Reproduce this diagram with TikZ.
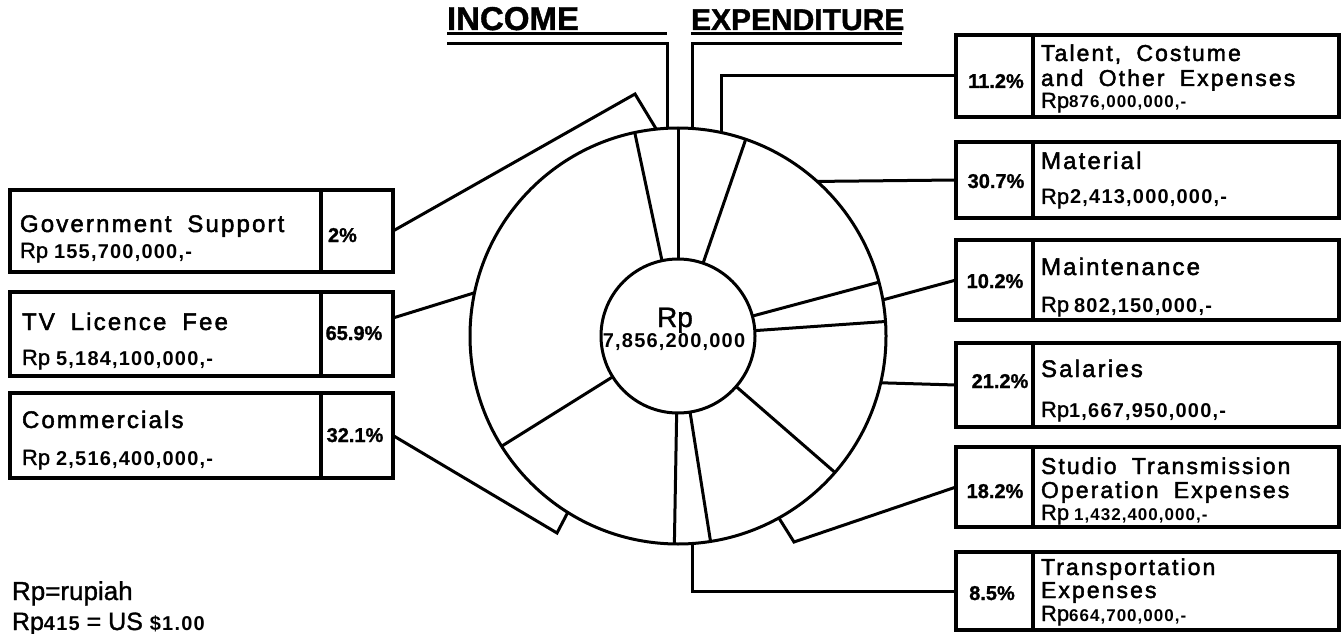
\documentclass[tikz,border=0pt]{standalone}
\usepackage{fontspec}
\setmainfont{Liberation Sans}[FakeBold=1.2]
\newfontfamily\labfont{Liberation Sans}[LetterSpace=9,WordSpace=1.8,FakeBold=2]
\newfontfamily\numfont{Liberation Sans}[LetterSpace=6]
\usetikzlibrary{calc}
% item name, amount in rupiah, percentage
\newcommand\lab[1]{{\labfont\fontsize{24}{24}\selectfont #1}}
\newcommand\labs[1]{{\labfont\fontsize{23}{23}\selectfont #1}}
\newcommand\rpamt[3][20]{{\fontsize{22}{22}\selectfont Rp}\hspace{#2}{\numfont\bfseries\fontsize{#1}{#1}\selectfont #3}}
\newcommand\pct[1]{{\bfseries\fontsize{20}{20}\selectfont #1}}
\begin{document}
\begin{tikzpicture}[x=1pt,y=1pt,
  box/.style={draw, line width=3.4pt, inner sep=0pt, outer sep=0pt, anchor=south west},
  txt/.style={inner sep=0pt, outer sep=0pt, anchor=base west},
  pc/.style={inner sep=0pt, outer sep=0pt, anchor=base},
  link/.style={line width=3pt, line join=miter},
  ringst/.style={draw, circle, line width=3pt, inner sep=0pt, outer sep=0pt}]
\useasboundingbox (0,0) rectangle (1343,633);

% ---- the pie ring ----
\coordinate (o) at (678,297);
\node[ringst, minimum size=416pt] (ring) at (o) {};
\node[ringst, minimum size=154pt] (hub) at (o) {};
\foreach \a in {102,90,71,15,4,319.5,279,269,212}
  \draw[link] (hub.\a) -- (ring.\a);
\node[pc] (hubrp) at (675,306) {\fontsize{28}{28}\selectfont Rp};
\node[pc] (hubamt) at (674,286) {\numfont\bfseries\fontsize{20}{20}\selectfont 7,856,200,000};

% ---- headings ----
\node[txt] (inc) at (447,603) {\bfseries\fontsize{33}{33}\selectfont INCOME};
\node[txt] (exp) at (691,603) {\bfseries\fontsize{30}{30}\selectfont EXPENDITURE};
\coordinate (incU1) at (447,599); \coordinate (incU2) at (667,599);
\coordinate (incA) at (447,589);
\coordinate (expU1) at (691,599); \coordinate (expU2) at (902,599);
\coordinate (expA) at (902,589);
\draw[link] (incU1) -- (incU2);
\draw[link] (incA) -| (ring.93.6);
\draw[link] (expU1) -- (expU2);
\draw[link] (expA) -| (ring.86.4);

% ---- income boxes ----
\node[box, minimum width=311pt, minimum height=82pt] (gov) at (10,361) {};
\node[box, minimum width=72pt, minimum height=82pt] (govp) at (321,361) {};
\node[box, minimum width=311pt, minimum height=84pt] (tv) at (10,257) {};
\node[box, minimum width=72pt, minimum height=84pt] (tvp) at (321,257) {};
\node[box, minimum width=311pt, minimum height=85pt] (com) at (10,155) {};
\node[box, minimum width=72pt, minimum height=85pt] (comp) at (321,155) {};

\node[txt] (govn) at (20,401) {\lab{Government Support}};
\node[txt] (gova) at (20,375) {\rpamt{6pt}{155,700,000,-}};
\node[txt] (govq) at (328,391) {\pct{2\%}};
\node[txt] (tvn) at (22,303) {\lab{TV Licence Fee}};
\node[txt] (tva) at (22,268) {\rpamt{6pt}{5,184,100,000,-}};
\node[pc] (tvq) at (354,293) {\pct{65.9\%}};
\node[txt] (comn) at (22,205) {\lab{Commercials}};
\node[txt] (coma) at (22,168) {\rpamt{6pt}{2,516,400,000,-}};
\node[pc] (comq) at (355,191) {\pct{32.1\%}};

% ---- expenditure boxes ----
\node[box, minimum width=77pt, minimum height=82pt] (talp) at (956,516) {};
\node[box, minimum width=306pt, minimum height=82pt] (tal) at (1033,516) {};
\node[box, minimum width=77pt, minimum height=76pt] (matp) at (956,415) {};
\node[box, minimum width=306pt, minimum height=76pt] (mat) at (1033,415) {};
\node[box, minimum width=77pt, minimum height=80pt] (maip) at (956,313) {};
\node[box, minimum width=306pt, minimum height=80pt] (mai) at (1033,313) {};
\node[box, minimum width=77pt, minimum height=84pt] (salp) at (956,206) {};
\node[box, minimum width=306pt, minimum height=84pt] (sal) at (1033,206) {};
\node[box, minimum width=77pt, minimum height=80pt] (stup) at (956,106) {};
\node[box, minimum width=306pt, minimum height=80pt] (stu) at (1033,106) {};
\node[box, minimum width=77pt, minimum height=78pt] (trap) at (956,3) {};
\node[box, minimum width=306pt, minimum height=78pt] (tra) at (1033,3) {};

\node[pc] (talq) at (996,545) {\pct{11.2\%}};
\node[txt] (taln1) at (1041,572) {\labs{Talent, Costume}};
\node[txt] (taln2) at (1041,547) {\labs{and Other Expenses}};
\node[txt] (tala) at (1041,525) {\rpamt[17]{0pt}{876,000,000,-}};

\node[pc] (matq) at (996,445) {\pct{30.7\%}};
\node[txt] (matn) at (1041,464) {\lab{Material}};
\node[txt] (mata) at (1041,429) {\rpamt{1pt}{2,413,000,000,-}};

\node[pc] (maiq) at (995,345) {\pct{10.2\%}};
\node[txt] (main) at (1041,358) {\lab{Maintenance}};
\node[txt] (maia) at (1041,321) {\rpamt{5pt}{802,150,000,-}};

\node[pc] (salq) at (1000,245) {\pct{21.2\%}};
\node[txt] (saln) at (1041,256) {\lab{Salaries}};
\node[txt] (sala) at (1041,216) {\rpamt{0pt}{1,667,950,000,-}};

\node[pc] (stuq) at (995,135) {\pct{18.2\%}};
\node[txt] (stun1) at (1041,159) {\labs{Studio Transmission}};
\node[txt] (stun2) at (1041,135) {\labs{Operation Expenses}};
\node[txt] (stua) at (1041,113) {\rpamt[17]{5pt}{1,432,400,000,-}};

\node[pc] (traq) at (992,33) {\pct{8.5\%}};
\node[txt] (tran1) at (1041,58) {\labs{Transportation}};
\node[txt] (tran2) at (1041,35) {\labs{Expenses}};
\node[txt] (traa) at (1041,12) {\rpamt[17]{0pt}{664,700,000,-}};

% ---- connectors from boxes to the ring ----
\coordinate (govK) at (635,539);
\coordinate (comK) at (557,100);
\coordinate (stuK) at (794,91);
\draw[link] (govp.east) -- (govK) -- (ring.96);
\draw[link] ([yshift=16pt]tvp.east) -- (ring.168);
\draw[link] (comp.east) -- (comK) -- (ring.238.2);
\draw[link] (talp.west) -| (ring.78.9);
\draw[link] (matp.west) -- (ring.48.6);
\draw[link] (maip.west) -- (ring.10.4);
\draw[link] (salp.west) -- (ring.347.2);
\draw[link] (stup.west) -- (stuK) -- (ring.299.7);
\draw[link] (trap.west) -| (ring.274.1);

% ---- note ----
\node[txt] (note1) at (12,33) {\fontsize{26}{26}\selectfont Rp=rupiah};
\node[txt] (note2) at (12,3) {\fontsize{25}{25}\selectfont Rp{\numfont\bfseries\fontsize{20}{20}\selectfont 415} = US {\numfont\bfseries\fontsize{20}{20}\selectfont \$1.00}};
\end{tikzpicture}
\end{document}
